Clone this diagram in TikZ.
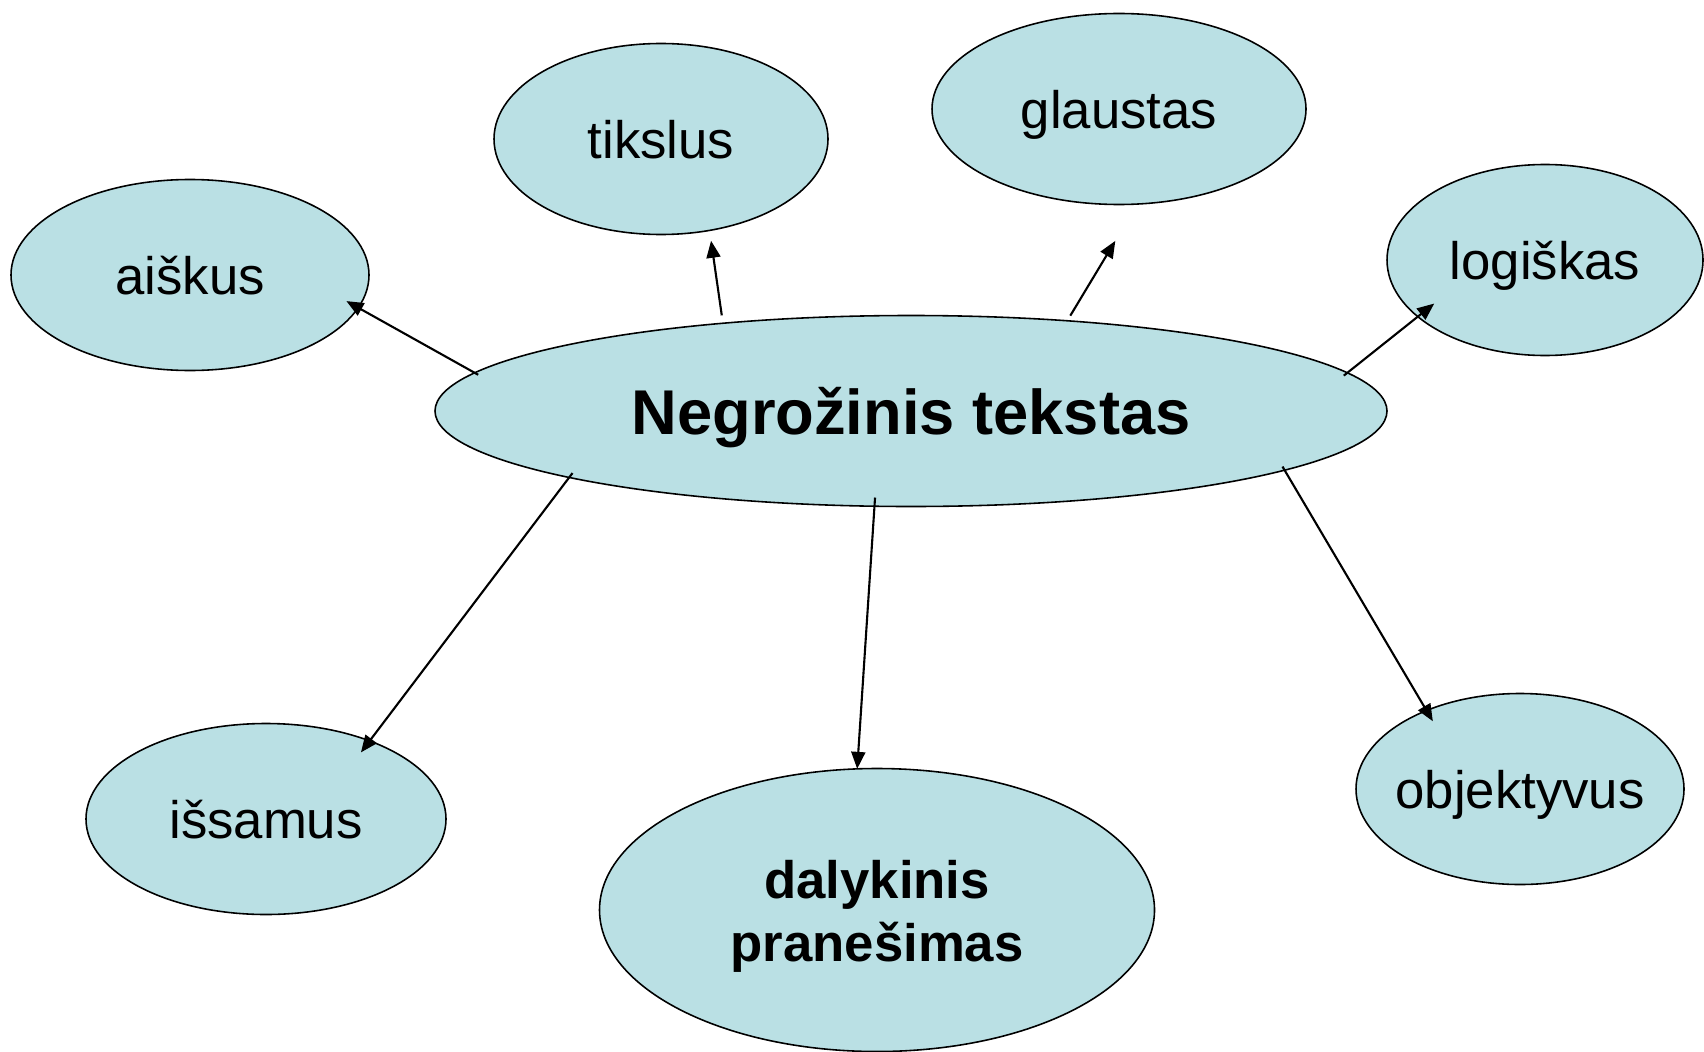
\documentclass[tikz,border=0pt]{standalone}
\usepackage{fontspec}
\setmainfont{Liberation Sans}
\usetikzlibrary{arrows.meta,shapes.geometric}
\definecolor{bubble}{RGB}{186,224,228}

\begin{document}
\begin{tikzpicture}[
  every node/.style = {shape=ellipse, draw, fill=bubble, line width=0.45pt,
                       inner sep=0pt, outer sep=0pt, minimum height=1.91cm,
                       align=center, font=\fontsize{15}{18}\selectfont,
                       text height=14pt, text depth=2.8pt},
  arr/.style = {-{Triangle[length=0.17cm,width=0.14cm]}, line width=0.6pt}
]
  \useasboundingbox (0,0) rectangle (17.04,-10.51);
  \node (main) at (9.11,-4.11) [minimum width=9.52cm, text height=17.2pt, text depth=3.6pt,
        font=\fontsize{18}{22}\selectfont\bfseries] {Negrožinis tekstas};
  \node (aiskus) at (1.90,-2.75) [minimum width=3.58cm] {aiškus};
  \node (tikslus) at (6.61,-1.39) [minimum width=3.34cm] {tikslus};
  \node (glaustas) at (11.19,-1.09) [minimum width=3.74cm] {glaustas};
  \node (logiskas) at (15.45,-2.60) [minimum width=3.16cm] {logiškas};
  \node (issamus) at (2.66,-8.19) [minimum width=3.60cm] {išsamus};
  \node (dalykinis) at (8.77,-9.10) [minimum width=5.55cm, minimum height=2.83cm,
        text height=32.5pt, text depth=3pt,
        font=\fontsize{15}{18}\selectfont\bfseries] {dalykinis\\pranešimas};
  \node (objektyvus) at (15.20,-7.89) [minimum width=3.28cm, inner xsep=-0.09cm] {objektyvus};

  \draw[arr, shorten <=-0.04cm, shorten >=-0.135cm] (main.175) -- (aiskus.-11.25);
  \draw[arr, shorten <=0.08cm, shorten >=0.105cm] (main.155.4) -- (tikslus.-62.7);
  \draw[arr, shorten <=0.06cm, shorten >=0.43cm] (main.30.4) -- (glaustas.-79.9);
  \draw[arr, shorten <=-0.045cm, shorten >=-0.21cm] (main.5.1) -- (logiskas.-156.85);
  \draw[arr, shorten <=-0.055cm, shorten >=-0.144cm] (main.-169.7) -- (issamus.37.3);
  \draw[arr, shorten <=-0.087cm] (main.-111.9) -- (dalykinis.98.1);
  \draw[arr, shorten <=-0.042cm, shorten >=-0.124cm] (main.-9.08) -- (objektyvus.140.8);
\end{tikzpicture}
\end{document}
